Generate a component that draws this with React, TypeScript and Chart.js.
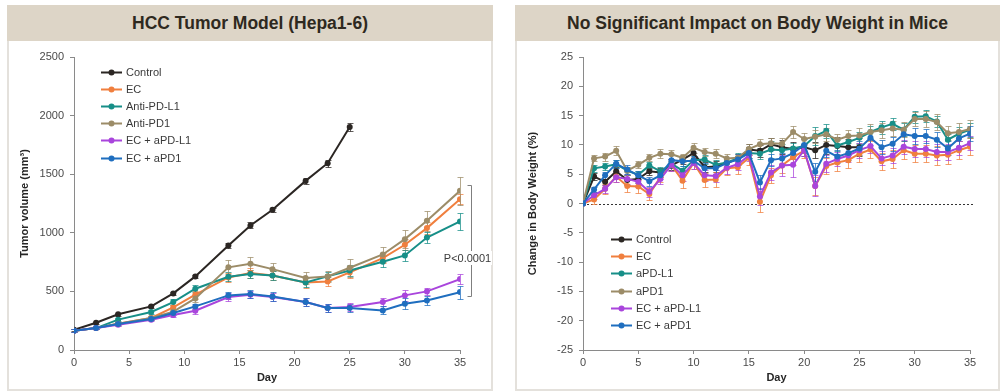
import React, { useEffect, useRef } from "react";
import { Chart, registerables } from "chart.js";

Chart.register(...registerables);

const FONT = '"Liberation Sans", Arial, sans-serif';
const AXIS = "#8a8a8a";
const TICK_COLOR = "#4a4a4a";

// ---------- Left chart: tumor volume ----------
const tvDays = [0, 2, 4, 7, 9, 11, 14, 16, 18, 21, 23, 25, 28, 30, 32, 35];
const tvControlDays = [0, 2, 4, 7, 9, 11, 14, 16, 18, 21, 23, 25];
const tvControl = [173, 233, 305, 372, 483, 628, 892, 1063, 1196, 1443, 1594, 1903];
const tvControlErr = [10, 10, 12, 12, 15, 15, 25, 25, 15, 25, 30, 35];
const tvEC = [165, 187, 225, 273, 364, 472, 619, 656, 636, 577, 585, 662, 784, 898, 1040, 1287];
const tvECErr = [10, 10, 12, 15, 20, 35, 40, 40, 40, 45, 40, 45, 40, 45, 50, 45];
const tvPDL1 = [165, 187, 259, 324, 409, 523, 625, 648, 636, 577, 628, 679, 753, 807, 960, 1097];
const tvPDL1Err = [10, 10, 15, 15, 25, 30, 40, 35, 35, 40, 40, 45, 45, 45, 50, 70];
const tvPD1 = [165, 187, 224, 273, 327, 440, 705, 736, 690, 614, 628, 702, 815, 946, 1102, 1358];
const tvPD1Err = [10, 10, 15, 15, 20, 30, 60, 55, 55, 55, 50, 75, 65, 75, 85, 120];
const tvECPDL1 = [165, 187, 216, 259, 298, 335, 452, 472, 452, 409, 358, 366, 409, 466, 500, 605];
const tvECPDL1Err = [10, 10, 12, 15, 15, 25, 35, 30, 35, 35, 35, 35, 35, 45, 30, 40];
const tvECPD1 = [165, 187, 222, 264, 315, 372, 466, 477, 457, 409, 358, 358, 338, 395, 423, 494];
const tvECPD1Err = [10, 10, 12, 12, 15, 20, 30, 35, 35, 35, 35, 35, 35, 45, 35, 55];
const tvLabels = ["Control", "EC", "Anti-PD-L1", "Anti-PD1", "EC + aPD-L1", "EC + aPD1"];
const tvYTicks = { min: 0, max: 2500, step: 500 };
const bracketTop = 1410;
const bracketBottom = 460;
const pLabelValue = 785;
const pLabel = "P<0.0001";

// ---------- Right chart: body weight ----------
const bwDays = [0, 1, 2, 3, 4, 5, 6, 7, 8, 9, 10, 11, 12, 13, 14, 15, 16, 17, 18, 19, 20, 21, 22, 23, 24, 25, 26, 27, 28, 29, 30, 31, 32, 33, 34, 35];
const bwControl = [0, 4.6, 3.7, 5.5, 4.0, 4.2, 5.5, 5.3, 6.5, 7.5, 8.6, 6.2, 6.3, 6.9, 7.6, 9.2, 9.0, 10.1, 9.6, 9.3, 9.6, 9.1, 10.0, 9.8, 9.6, 9.6];
const bwControlErr = [0, 0.6, 0.5, 0.7, 0.8, 0.7, 0.6, 0.7, 0.8, 0.8, 0.8, 0.8, 0.9, 0.9, 0.9, 1.0, 1.0, 1.0, 1.2, 1.2, 1.5, 1.4, 1.5, 1.5, 1.4, 1.5];
const bwEC = [0, 0.7, 2.5, 4.6, 3.0, 2.9, 1.6, 4.5, 6.6, 3.9, 6.9, 4.0, 4.1, 6.0, 6.2, 7.8, 0.3, 4.8, 6.5, 7.9, 9.0, 3.0, 6.4, 7.0, 7.4, 8.5, 9.2, 7.2, 7.6, 9.1, 8.5, 8.5, 8.2, 8.3, 9.1, 9.7];
const bwECErr = [0, 0.8, 0.8, 0.9, 1.1, 1.1, 1.0, 0.9, 1.0, 1.2, 1.0, 1.2, 1.2, 1.1, 1.1, 1.2, 1.8, 1.3, 1.3, 1.4, 1.2, 1.5, 1.3, 1.4, 1.4, 1.4, 1.5, 1.5, 1.5, 1.5, 1.4, 1.5, 1.6, 1.6, 1.5, 1.4];
const bwPDL1 = [0, 6.0, 6.3, 6.7, 5.6, 4.9, 6.5, 5.5, 6.8, 5.6, 7.4, 7.5, 6.6, 7.0, 7.7, 8.6, 8.5, 9.2, 9.1, 9.4, 9.8, 11.5, 12.4, 9.9, 10.5, 11.2, 12.2, 13.0, 13.6, 12.6, 14.8, 14.9, 14.0, 10.9, 11.9, 12.6];
const bwPDL1Err = [0, 0.6, 0.6, 0.7, 0.7, 0.7, 0.6, 0.7, 0.8, 0.8, 0.7, 0.8, 0.8, 0.8, 0.9, 0.9, 0.9, 1.4, 1.1, 1.0, 1.2, 1.6, 1.2, 1.0, 1.0, 1.0, 1.1, 1.1, 1.0, 1.1, 1.0, 1.0, 1.0, 1.0, 1.2, 1.2];
const bwPD1 = [0, 7.7, 8.0, 9.0, 5.6, 6.6, 7.8, 8.5, 8.4, 7.8, 9.5, 8.8, 8.5, 7.7, 7.8, 9.3, 10.1, 10.3, 10.2, 12.2, 11.0, 11.4, 11.8, 10.9, 11.5, 11.6, 12.2, 12.5, 12.8, 12.6, 14.4, 14.4, 13.9, 12.0, 12.2, 12.7];
const bwPD1Err = [0, 0.5, 0.7, 0.8, 0.7, 0.6, 0.6, 0.8, 0.8, 0.7, 0.8, 0.7, 0.8, 0.7, 0.7, 0.9, 0.9, 0.9, 0.9, 1.0, 1.0, 1.1, 1.1, 1.0, 1.1, 1.2, 1.3, 1.3, 1.2, 1.3, 1.2, 1.3, 1.3, 1.2, 1.5, 1.6];
const bwECPDL1 = [0, 1.4, 2.5, 4.5, 4.2, 3.7, 2.0, 4.2, 6.6, 4.8, 6.9, 4.8, 4.7, 6.1, 6.7, 8.2, 1.2, 5.3, 6.5, 6.6, 9.1, 3.0, 6.8, 7.6, 8.2, 9.1, 9.8, 7.7, 8.2, 9.7, 9.3, 9.3, 8.8, 8.8, 9.5, 10.3];
const bwECPDL1Err = [0, 0.6, 0.7, 0.9, 0.9, 0.9, 0.9, 0.9, 1.0, 1.0, 1.0, 1.0, 1.0, 1.0, 1.0, 1.0, 1.5, 1.3, 1.8, 2.0, 1.0, 1.8, 1.4, 1.2, 1.2, 1.3, 1.2, 1.2, 1.3, 1.2, 1.4, 1.3, 1.3, 1.3, 1.2, 1.2];
const bwECPD1 = [0, 2.4, 4.8, 6.8, 5.8, 4.8, 3.8, 4.8, 7.4, 7.2, 7.3, 6.0, 6.0, 6.9, 7.5, 8.6, 3.6, 7.4, 7.7, 8.6, 10.0, 5.4, 9.0, 8.0, 8.6, 9.4, 11.2, 9.6, 10.2, 11.8, 11.5, 11.5, 10.9, 9.4, 11.1, 11.9];
const bwECPD1Err = [0, 0.5, 0.6, 0.7, 0.8, 0.7, 0.8, 0.7, 0.8, 0.8, 0.8, 0.9, 0.9, 0.9, 0.9, 0.9, 1.2, 1.0, 1.0, 1.0, 1.0, 1.5, 1.1, 1.1, 1.1, 1.2, 1.2, 1.2, 1.2, 1.2, 1.3, 1.2, 1.3, 1.2, 1.3, 1.3];
const bwLabels = ["Control", "EC", "aPD-L1", "aPD1", "EC + aPD-L1", "EC + aPD1"];
const bwYTicks = { min: -25, max: 25, step: 5 };

const COLORS = ["#2b2623", "#f07f3e", "#178f88", "#9c8c68", "#a945dc", "#1f6ebf"];

function makeDataset(label: string, days: number[], vals: number[], errs: number[], color: string, idx: number, total: number) {
  return {
    label,
    data: days.slice(0, vals.length).map((d, i) => ({ x: d, y: vals[i] })),
    errors: errs,
    borderColor: color,
    backgroundColor: color,
    pointBackgroundColor: color,
    pointBorderColor: color,
    pointRadius: 3,
    pointBorderWidth: 0,
    borderWidth: 2,
    tension: 0,
    fill: false,
    order: total - idx,
  };
}

const errorBarPlugin = {
  id: "errorBars",
  beforeDatasetsDraw(chart: any) {
    const ctx = chart.ctx;
    const ys = chart.scales.y;
    chart.data.datasets.forEach((ds: any, i: number) => {
      const meta = chart.getDatasetMeta(i);
      if (!ds.errors) return;
      ctx.save();
      ctx.strokeStyle = ds.borderColor;
      ctx.globalAlpha = 0.75;
      ctx.lineWidth = 1;
      meta.data.forEach((pt: any, j: number) => {
        const e = ds.errors[j];
        if (!e) return;
        const v = ds.data[j].y;
        const t = Math.round(ys.getPixelForValue(v + e)) + 0.5;
        const b = Math.round(ys.getPixelForValue(v - e)) + 0.5;
        const x = Math.round(pt.x) + 0.5;
        ctx.beginPath();
        ctx.moveTo(x, t);
        ctx.lineTo(x, b);
        ctx.moveTo(x - 3, t);
        ctx.lineTo(x + 3, t);
        ctx.moveTo(x - 3, b);
        ctx.lineTo(x + 3, b);
        ctx.stroke();
      });
      ctx.restore();
    });
  },
};

function legendPlugin(labels: string[], colors: string[], dx: number, dy: number, row: number) {
  return {
    id: "inLegend",
    afterDraw(chart: any) {
      const { ctx, chartArea } = chart;
      ctx.save();
      ctx.font = `11px ${FONT}`;
      ctx.textBaseline = "middle";
      ctx.textAlign = "left";
      labels.forEach((lab, i) => {
        const x = chartArea.left + dx;
        const y = Math.round(chartArea.top + dy + i * row) + 0.5;
        ctx.strokeStyle = colors[i];
        ctx.lineWidth = 2;
        ctx.beginPath();
        ctx.moveTo(x, y);
        ctx.lineTo(x + 21, y);
        ctx.stroke();
        ctx.fillStyle = colors[i];
        ctx.beginPath();
        ctx.arc(x + 10.5, y, 3, 0, Math.PI * 2);
        ctx.fill();
        ctx.fillStyle = "#3a3a3a";
        ctx.fillText(lab, x + 25, y + 0.5);
      });
      ctx.restore();
    },
  };
}

const bracketPlugin = {
  id: "bracket",
  afterDatasetsDraw(chart: any) {
    const { ctx, scales } = chart;
    const xs = scales.x;
    const ys = scales.y;
    const bx = Math.round(xs.getPixelForValue(35) + 10.5) + 0.5;
    const t = Math.round(ys.getPixelForValue(bracketTop)) + 0.5;
    const b = Math.round(ys.getPixelForValue(bracketBottom)) + 0.5;
    ctx.save();
    ctx.strokeStyle = "#7f7f7f";
    ctx.lineWidth = 1;
    ctx.beginPath();
    ctx.moveTo(bx - 4, t);
    ctx.lineTo(bx, t);
    ctx.lineTo(bx, b);
    ctx.lineTo(bx - 4, b);
    ctx.stroke();
    ctx.font = `11px ${FONT}`;
    ctx.textAlign = "center";
    ctx.textBaseline = "middle";
    const ty = ys.getPixelForValue(pLabelValue);
    const tx = bx - 4;
    const w = ctx.measureText(pLabel).width;
    ctx.fillStyle = "#ffffff";
    ctx.fillRect(tx - w / 2 - 1, ty - 7, w + 2, 14);
    ctx.fillStyle = "#3a3a3a";
    ctx.fillText(pLabel, tx, ty + 0.5);
    ctx.restore();
  },
};

const zeroLinePlugin = {
  id: "zeroLine",
  beforeDatasetsDraw(chart: any) {
    const { ctx, chartArea, scales } = chart;
    const y = Math.round(scales.y.getPixelForValue(0)) + 0.5;
    ctx.save();
    ctx.strokeStyle = "#333333";
    ctx.lineWidth = 1;
    ctx.setLineDash([2, 2]);
    ctx.beginPath();
    ctx.moveTo(chartArea.left, y);
    ctx.lineTo(chartArea.right + 5, y);
    ctx.stroke();
    ctx.restore();
  },
};

function makeScales(yMin: number, yMax: number, yStep: number, yTitle: string, yWidth: number) {
  return {
    x: {
      type: "linear",
      min: 0,
      max: 35,
      ticks: {
        stepSize: 5,
        font: { family: FONT, size: 11 },
        color: TICK_COLOR,
        padding: 2,
        maxRotation: 0,
        callback: (v: any) => String(v),
      },
      grid: { display: true, drawOnChartArea: false, drawTicks: true, tickLength: 4, color: AXIS },
      border: { color: AXIS, width: 1 },
      title: {
        display: true,
        text: "Day",
        font: { family: FONT, size: 11, weight: "bold" },
        color: "#262626",
        padding: { top: 0, bottom: 3 },
      },
      afterFit: (s: any) => {
        s.height = 38;
      },
    },
    y: {
      type: "linear",
      min: yMin,
      max: yMax,
      ticks: {
        stepSize: yStep,
        font: { family: FONT, size: 11 },
        color: TICK_COLOR,
        padding: 6,
        callback: (v: any) => String(v),
      },
      grid: { display: true, drawOnChartArea: false, drawTicks: true, tickLength: 4, color: AXIS },
      border: { color: AXIS, width: 1 },
      title: {
        display: true,
        text: yTitle,
        font: { family: FONT, size: 11, weight: "bold" },
        color: "#262626",
        padding: { top: 10, bottom: 0 },
      },
      afterFit: (s: any) => {
        s.width = yWidth;
      },
    },
  };
}

function tumorConfig(): any {
  const sets = [
    makeDataset(tvLabels[0], tvControlDays, tvControl, tvControlErr, COLORS[0], 0, 6),
    makeDataset(tvLabels[1], tvDays, tvEC, tvECErr, COLORS[1], 1, 6),
    makeDataset(tvLabels[2], tvDays, tvPDL1, tvPDL1Err, COLORS[2], 2, 6),
    makeDataset(tvLabels[3], tvDays, tvPD1, tvPD1Err, COLORS[3], 3, 6),
    makeDataset(tvLabels[4], tvDays, tvECPDL1, tvECPDL1Err, COLORS[4], 4, 6),
    makeDataset(tvLabels[5], tvDays, tvECPD1, tvECPD1Err, COLORS[5], 5, 6),
  ];
  return {
    type: "line",
    data: { datasets: sets },
    options: {
      responsive: false,
      animation: false,
      devicePixelRatio: 1,
      layout: { padding: { top: 16, right: 32, left: 0, bottom: 0 } },
      plugins: { legend: { display: false }, tooltip: { enabled: false } },
      scales: makeScales(tvYTicks.min, tvYTicks.max, tvYTicks.step, "Tumor volume (mm³)", 66),
    },
    plugins: [errorBarPlugin, bracketPlugin, legendPlugin(tvLabels, COLORS, 27, 15, 17.1)],
  };
}

function weightConfig(): any {
  const sets = [
    makeDataset(bwLabels[0], bwDays, bwControl, bwControlErr, COLORS[0], 0, 6),
    makeDataset(bwLabels[1], bwDays, bwEC, bwECErr, COLORS[1], 1, 6),
    makeDataset(bwLabels[2], bwDays, bwPDL1, bwPDL1Err, COLORS[2], 2, 6),
    makeDataset(bwLabels[3], bwDays, bwPD1, bwPD1Err, COLORS[3], 3, 6),
    makeDataset(bwLabels[4], bwDays, bwECPDL1, bwECPDL1Err, COLORS[4], 4, 6),
    makeDataset(bwLabels[5], bwDays, bwECPD1, bwECPD1Err, COLORS[5], 5, 6),
  ];
  return {
    type: "line",
    data: { datasets: sets },
    options: {
      responsive: false,
      animation: false,
      devicePixelRatio: 1,
      layout: { padding: { top: 16, right: 28, left: 0, bottom: 0 } },
      plugins: { legend: { display: false }, tooltip: { enabled: false } },
      scales: makeScales(bwYTicks.min, bwYTicks.max, bwYTicks.step, "Change in Body Weight (%)", 67),
    },
    plugins: [zeroLinePlugin, errorBarPlugin, legendPlugin(bwLabels, COLORS, 28, 182, 17.2)],
  };
}

function ChartCanvas({ makeConfig, left, top, width, height }: any) {
  const ref = useRef<HTMLCanvasElement>(null);
  useEffect(() => {
    const chart = new Chart(ref.current as HTMLCanvasElement, makeConfig());
    return () => chart.destroy();
  }, []);
  return (
    <canvas
      ref={ref}
      width={width}
      height={height}
      style={{ position: "absolute", left, top, width, height }}
    />
  );
}

function Panel({ left, width, title }: any) {
  return (
    <div
      style={{
        position: "absolute",
        left,
        top: 5,
        width,
        height: 386,
        boxSizing: "border-box",
        border: "2px solid #e4e1dc",
        borderTop: "none",
        background: "#ffffff",
      }}
    >
      <div
        style={{
          height: 36,
          margin: "0 -2px",
          background: "#ddd5c7",
          color: "#2e2920",
          fontFamily: FONT,
          fontWeight: "bold",
          fontSize: 17.5,
          lineHeight: "36px",
          textAlign: "center",
        }}
      >
        {title}
      </div>
    </div>
  );
}

export default function App() {
  return (
    <div style={{ position: "absolute", left: 0, top: 0, width: 1008, height: 392, background: "#ffffff", overflow: "hidden" }}>
      <Panel left={7} width={486} title="HCC Tumor Model (Hepa1-6)" />
      <Panel left={515} width={485} title="No Significant Impact on Body Weight in Mice" />
      <ChartCanvas makeConfig={tumorConfig} left={8} top={41} width={484} height={347} />
      <ChartCanvas makeConfig={weightConfig} left={516} top={41} width={482} height={347} />
    </div>
  );
}
